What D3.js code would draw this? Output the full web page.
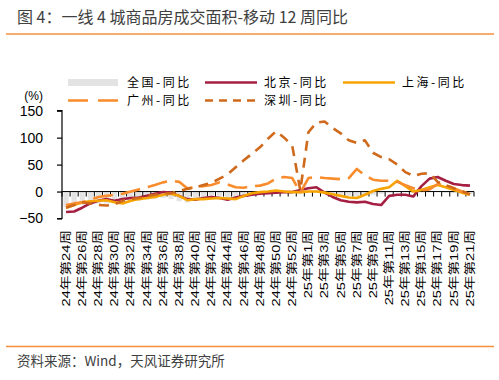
<!DOCTYPE html>
<html><head><meta charset="utf-8">
<script src="https://cdn.jsdelivr.net/npm/d3@7"></script>
<style>body{margin:0;background:#fff}svg{display:block}</style>
</head><body>
<svg id="c" width="499" height="380"></svg>
<script>
const weeks = [
"24年第24周","24年第25周","24年第26周","24年第27周","24年第28周","24年第29周","24年第30周","24年第31周",
"24年第32周","24年第33周","24年第34周","24年第35周","24年第36周","24年第37周","24年第38周","24年第39周",
"24年第40周","24年第41周","24年第42周","24年第43周","24年第44周","24年第45周","24年第46周","24年第47周",
"24年第48周","24年第49周","24年第50周","24年第51周","24年第52周","24年第53周",
"25年第1周","25年第2周","25年第3周","25年第4周","25年第5周","25年第6周","25年第7周","25年第8周",
"25年第9周","25年第10周","25年第11周","25年第12周","25年第13周","25年第14周","25年第15周","25年第16周",
"25年第17周","25年第18周","25年第19周","25年第20周","25年第21周"];
const shownLabels = [
"24年第24周","24年第26周","24年第28周","24年第30周","24年第32周","24年第34周","24年第36周","24年第38周",
"24年第40周","24年第42周","24年第44周","24年第46周","24年第48周","24年第50周","24年第52周",
"25年第1周","25年第3周","25年第5周","25年第7周","25年第9周","25年第11周","25年第13周","25年第15周",
"25年第17周","25年第19周","25年第21周"];
const national = [-28,-27,-25,-24,-22,-22,-20,-20,-18,-17,-15,-13,-12,-14,-18,-20,-17,-15,-14,-13,-12,-12,-10,-8,-6,-4,-3,-2,-1,-5,
  2,3,0,-3,-6,-8,-9,-8,-6,-4,-2,0,1,-2,-1,1,0,-2,-3,-4,-5];
const beijing = [-38,-37,-30,-22,-17,-14,-17,-14,-12,-11,-8,-4,-1,-2,-8,-14,-15,-12,-10,-12,-15,-11,-8,-6,-4,-3,-2,-1,-1,3,
  6,8,-2,-10,-16,-19,-20,-19,-23,-25,-8,-6,-6,-9,10,24,27,20,14,12,11];
const shanghai = [-30,-25,-20,-18,-17,-16,-20,-22,-17,-14,-12,-10,-6,-4,-8,-16,-14,-14,-13,-12,-13,-14,-8,-3,-1,0,2,0,-1,-1,
  0,0,-2,-5,-8,-11,-12,-6,1,5,8,20,10,0,3,8,12,8,3,-2,-6];
const guangzhou = [-25,-22,-20,-15,-10,-8,-6,-4,0,4,8,12,17,20,18,6,8,10,12,17,13,8,7,10,11,15,24,27,25,-2,
  25,27,25,24,23,25,42,30,22,20,20,18,12,6,2,4,14,12,6,0,-5];
const shenzhen = [-30,-25,-20,-22,-25,-26,-24,-17,-14,-12,-8,-6,-4,-3,1,5,8,12,16,24,32,45,58,70,82,98,112,100,85,2,
  110,128,130,118,108,95,90,95,72,64,60,50,36,29,33,34,18,12,6,1,-5];
const yTicks = [-50,0,50,100,150];
const legendNames = ["全国-同比","北京-同比","上海-同比","广州-同比","深圳-同比"];
const colors = ["#e3e3e3","#a51f43","#f7a400","#f98c2c","#cf6a1c"];

const svg = d3.select("#c");
svg.append("rect").attr("width",499).attr("height",380).attr("fill","#fff");

// title
svg.append("text").attr("x",17).attr("y",23)
  .attr("font-family","'Noto Sans CJK SC','Noto Sans',sans-serif").attr("font-size",16)
  .attr("fill","#404040").text("图 4：一线 4 城商品房成交面积-移动 12 周同比");
svg.append("line").attr("x1",6).attr("x2",494).attr("y1",34).attr("y2",34)
  .attr("stroke","#f5913c").attr("stroke-width",1.6);
svg.append("line").attr("x1",6).attr("x2",494).attr("y1",346.5).attr("y2",346.5)
  .attr("stroke","#f5913c").attr("stroke-width",1.6);
svg.append("text").attr("x",17).attr("y",366)
  .attr("font-family","'Noto Sans CJK SC','Noto Sans',sans-serif").attr("font-size",13.5)
  .attr("fill","#404040").text("资料来源：Wind，天风证券研究所");

const x = d3.scaleBand().domain(weeks).range([62,474]).padding(0);
const y = d3.scaleLinear().domain([-50,150]).range([218.5,110.7]);
const cx = d => x(d) + x.bandwidth()/2;

// national bars
svg.append("g").selectAll("rect").data(weeks).join("rect")
  .attr("x",(d)=>cx(d)-2.6).attr("width",5.2)
  .attr("y",(d,i)=>Math.min(y(national[i]),y(0)))
  .attr("height",(d,i)=>Math.abs(y(national[i])-y(0)))
  .attr("fill",colors[0]);

// x axis at zero
const xa = svg.append("g").attr("transform",`translate(0,${y(0)})`);
xa.append("line").attr("x1",62).attr("x2",474).attr("stroke","#000").attr("stroke-width",1);
xa.selectAll("line.t").data(weeks.concat(["end"])).join("line").attr("class","t")
  .attr("x1",(d,i)=>62+i*x.bandwidth()).attr("x2",(d,i)=>62+i*x.bandwidth())
  .attr("y1",0).attr("y2",5).attr("stroke","#000").attr("stroke-width",1);

// y axis
const ya = svg.append("g").attr("transform","translate(62,0)")
  .call(d3.axisLeft(y).tickValues(yTicks).tickSize(5).tickPadding(14));
ya.selectAll("path,line").attr("stroke","#000").attr("stroke-width",1.2);
ya.select("path.domain").attr("d",`M-5,${y(150)}H0V${y(-50)}H-5`);
ya.selectAll("text").attr("font-family","'Liberation Sans',Arial,sans-serif").attr("font-size",14).attr("fill","#000");
svg.append("text").attr("x",43).attr("y",100).attr("text-anchor","end")
  .attr("font-family","'Liberation Sans',Arial,sans-serif").attr("font-size",12).text("(%)");

// x labels
svg.append("g").selectAll("text").data(shownLabels).join("text")
  .attr("transform",d=>`translate(${cx(d)},230) rotate(-90) scale(1.33,1)`)
  .attr("text-anchor","end").attr("dominant-baseline","central")
  .attr("font-family","'Liberation Sans','Noto Sans CJK SC',sans-serif").attr("font-size",11)
  .attr("fill","#000").text(d=>d);

// lines
const line = d3.line().x((d,i)=>cx(weeks[i])).y(d=>y(d));
const lineSeries = [
  {v:beijing,c:colors[1],dash:null},
  {v:shanghai,c:colors[2],dash:null},
  {v:guangzhou,c:colors[3],dash:"20,8"},
  {v:shenzhen,c:colors[4],dash:"10,7"}];
lineSeries.forEach(s=>{
  svg.append("path").datum(s.v).attr("d",line).attr("fill","none")
    .attr("stroke",s.c).attr("stroke-width",2.6)
    .attr("stroke-dasharray",s.dash).attr("stroke-linejoin","round");
});

// legend
const lf = "'Noto Sans CJK SC',sans-serif";
const leg = [
  {n:legendNames[0],x:68,y:82.5,type:"rect"},
  {n:legendNames[1],x:205,y:82.5,type:"line",dash:null,c:colors[1]},
  {n:legendNames[2],x:343,y:82.5,type:"line",dash:null,c:colors[2]},
  {n:legendNames[3],x:68,y:100.5,type:"line",dash:"20,10",c:colors[3]},
  {n:legendNames[4],x:205,y:100.5,type:"line",dash:"8,6",c:colors[4]}];
leg.forEach(l=>{
  if(l.type==="rect"){
    svg.append("rect").attr("x",l.x).attr("y",l.y-3.5).attr("width",50).attr("height",7).attr("fill",colors[0]);
  } else {
    svg.append("line").attr("x1",l.x).attr("x2",l.x+52).attr("y1",l.y).attr("y2",l.y)
      .attr("stroke",l.c).attr("stroke-width",2.6).attr("stroke-dasharray",l.dash);
  }
  svg.append("text").attr("x",l.x+59).attr("y",l.y+4.2).attr("font-family",lf).attr("font-size",12)
    .attr("letter-spacing",2.5).attr("fill","#000").text(l.n);
});
</script>
</body></html>
